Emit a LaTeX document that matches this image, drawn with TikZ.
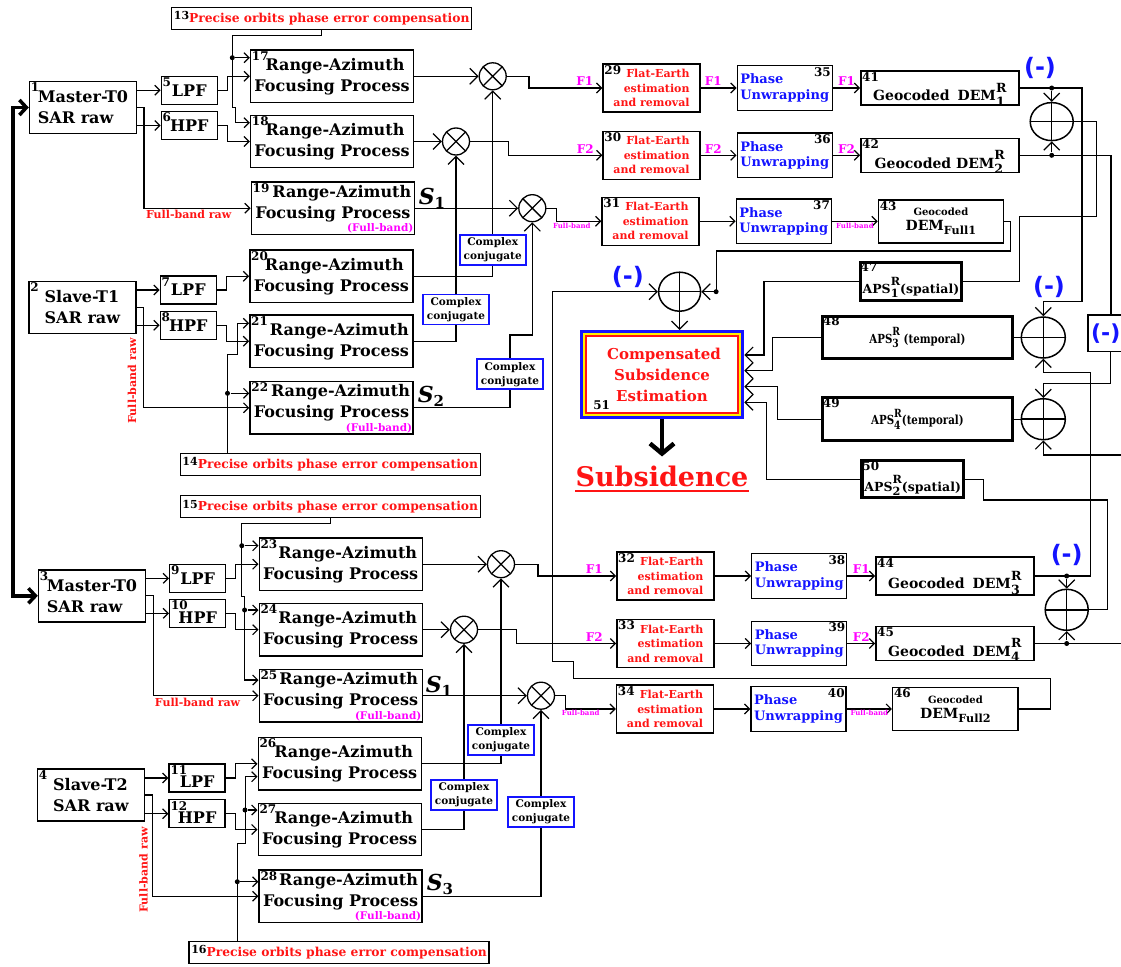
\documentclass[tikz,border=0pt]{standalone}
\usepackage{fontspec}
\setmainfont{DejaVu Serif}
\newfontfamily\minusfam{DejaVu Sans}
\newfontfamily\apsfam[FakeStretch=0.82]{DejaVu Serif}
\usepackage{graphicx}
\usepackage{tikz}
\usetikzlibrary{arrows.meta, shapes.geometric, positioning}

\definecolor{mag}{RGB}{255,0,255}
\definecolor{pblue}{RGB}{20,20,255}
\definecolor{pred}{RGB}{255,20,20}

\newcommand{\fRA}{\fontsize{16}{21}\selectfont\bfseries}
\newcommand{\fNum}{\fontsize{12}{12}\selectfont\bfseries}
\newcommand{\fSmall}{\fontsize{11}{14.5}\selectfont\bfseries}
\newcommand{\fUnw}{\fontsize{13}{15.5}\selectfont\bfseries}
\newcommand{\fOrb}{\fontsize{12.3}{14}\selectfont\bfseries}
\newcommand{\fGeo}{\fontsize{14}{17}\selectfont\bfseries}
\newcommand{\fAps}{\fontsize{12.5}{14}\selectfont\bfseries}
\newcommand{\fApt}{\apsfam\fontsize{12.5}{14}\selectfont\bfseries}
\newcommand{\fCj}{\fontsize{10.5}{14}\selectfont\bfseries}
\newcommand{\fLab}{\fontsize{12}{12}\selectfont\bfseries}
\newcommand{\fTag}{\fontsize{7}{8}\selectfont\bfseries}
\newcommand{\fFb}{\fontsize{10.5}{10.5}\selectfont\bfseries}
\newcommand{\fMinus}{\minusfam\fontsize{24}{24}\selectfont\bfseries}
\newcommand{\fSub}{\fontsize{27}{27}\selectfont\bfseries}
\newcommand{\fComp}{\fontsize{15}{21}\selectfont\bfseries}

\newcommand{\dsup}[1]{\setbox0\hbox{\scalebox{0.9}{R}}\rlap{\raisebox{0.62em}{\copy0}}\makebox[\wd0][l]{\raisebox{-0.38em}{\scalebox{0.9}{#1}}}}
\newcommand{\fullsub}[1]{\raisebox{-0.3em}{\scalebox{0.8}{#1}}}
\newcommand{\sig}[1]{{\fontsize{22}{22}\selectfont\bfseries\itshape S}\raisebox{-4pt}{\fontsize{15}{15}\selectfont\bfseries #1}}
\newcommand{\onum}[1]{{\color{black}\fontsize{11}{11}\selectfont\raisebox{2.5pt}{#1}}}
\newcommand{\low}[1]{\raisebox{-4pt}[\height][0pt]{#1}}
\newcommand{\rat}[1]{\hspace*{#1pt}Range-Azimuth\\Focusing Process}

\begin{document}
\begin{tikzpicture}[x=1pt, y=-1pt, >={Straight Barb[length=5pt,width=10pt]}, line width=1.2pt]
\tikzset{
  box/.style={draw, line width=1.4pt, inner sep=1pt, align=center, text=black},
  src/.style={box, minimum width=107pt, minimum height=52pt, font=\fRA, align=left},
  filt/.style={box, minimum width=56pt, minimum height=28pt, font=\fRA},
  rabox/.style={box, minimum width=163pt, minimum height=52.5pt, font=\fRA},
  orbit/.style={box, minimum width=300pt, minimum height=22pt, font=\fOrb, text=pred, inner sep=0pt},
  flat/.style={box, minimum width=97pt, minimum height=48pt, font=\fSmall, text=pred, align=right},
  unwrap/.style={box, minimum width=95pt, minimum height=44.5pt, font=\fUnw, text=pblue, align=left},
  geo/.style={box, minimum width=158pt, minimum height=34pt, font=\fGeo},
  aps/.style={box, line width=3.2pt, font=\fAps},
  conj/.style={box, draw=pblue, line width=1.8pt, minimum width=66pt, minimum height=30pt, font=\fCj},
  mul/.style={circle, draw, line width=1.3pt, minimum size=27pt, inner sep=0pt,
    path picture={\draw (path picture bounding box.north west) -- (path picture bounding box.south east)
      (path picture bounding box.north east) -- (path picture bounding box.south west);}},
  add/.style={ellipse, draw, line width=1.5pt, minimum width=42pt, minimum height=39pt, inner sep=0pt,
    path picture={\draw (path picture bounding box.north) -- (path picture bounding box.south)
      (path picture bounding box.west) -- (path picture bounding box.east);}},
  final/.style={draw=pblue, line width=3.5pt, minimum width=161pt, minimum height=86pt, font=\fComp,
    text=pred, align=center,
    path picture={\draw[yellow, line width=2pt] ([shift={(2.75pt,-2.75pt)}]path picture bounding box.north west)
      rectangle ([shift={(-2.75pt,2.75pt)}]path picture bounding box.south east);
      \draw[pred, line width=2pt] ([shift={(4.75pt,-4.75pt)}]path picture bounding box.north west)
      rectangle ([shift={(-4.75pt,4.75pt)}]path picture bounding box.south east);}},
  dot/.style={circle, fill, inner sep=0pt, minimum size=5pt},
  minus/.style={text=pblue, font=\fMinus, inner sep=0pt},
  lab/.style={font=\fLab, inner sep=1.5pt},
  flab/.style={lab, text=mag},
  fbtag/.style={font=\fTag, text=mag, inner sep=1pt},
  fbraw/.style={lab, font=\fontsize{11}{11}\selectfont\bfseries, text=pred},
  nr/.style={label={[font=\fNum, text=black, anchor=north west, inner sep=1.5pt]north west:#1}},
  nrr/.style={label={[font=\fNum, text=black, anchor=north east, inner sep=1.5pt]north east:#1}},
  fb/.style={text depth=13pt, label={[font=\fFb, text=mag, anchor=south east, inner sep=1pt]south east:(Full-band)}},
  bigtip/.style={-{Straight Barb[length=8pt,width=16pt]}},
  bigtipr/.style={{Straight Barb[length=8pt,width=16pt]}-}
}
\useasboundingbox (0,0) rectangle (1121,966);
\clip (0,0) rectangle (1121,966);

% raw data
\node[src, nr=1] (1) at (83,107.5) {Master-T0\\SAR raw};
\node[src, nr=2] (2) at (82.4,307.3) {Slave-T1\\SAR raw};
\node[src, nr=3] (3) at (92,595.8) {Master-T0\\SAR raw};
\node[src, nr=4] (4) at (90.9,795) {Slave-T2\\SAR raw};

% filters
\node[filt, nr=5] (5) at (189.3,90.2) {LPF};
\node[filt, nr=6] (6) at (189.3,125.5) {HPF};
\node[filt, nr=7] (7) at (188.3,290) {LPF};
\node[filt, nr=8] (8) at (188.3,325.3) {HPF};
\node[filt, nr=9] (9) at (197.7,578.3) {LPF};
\node[filt, nr=10] (10) at (197.7,613.3) {\low{HPF}};
\node[filt, nr=11] (11) at (197.1,778) {\low{LPF}};
\node[filt, nr=12] (12) at (197.1,813.7) {\low{HPF}};

% orbit compensation
\node[orbit] (13) at (321.7,18.3) {\onum{13}Precise orbits phase error compensation};
\node[orbit] (14) at (330.3,464.2) {\onum{14}Precise orbits phase error compensation};
\node[orbit] (15) at (330.3,506.7) {\onum{15}Precise orbits phase error compensation};
\node[orbit] (16) at (339.1,952.3) {\onum{16}Precise orbits phase error compensation};

% focusing
\node[rabox, nr=17] (17) at (332,76.3) {\rat{6}};
\node[rabox, nr=18] (18) at (332,141.5) {\rat{6}};
\node[rabox, nr=19, fb] (19) at (332.8,208.2) {\rat{18}};
\node[rabox, nr=20] (20) at (331.3,276.3) {\rat{6}};
\node[rabox, nr=21] (21) at (331.3,341.2) {\rat{16}};
\node[rabox, nr=22, fb] (22) at (331.5,407.8) {\rat{18}};
\node[rabox, nr=23] (23) at (340.7,564.2) {\rat{14}};
\node[rabox, nr=24] (24) at (340.7,629.7) {\rat{14}};
\node[rabox, nr=25, fb] (25) at (340.7,695.7) {\rat{16}};
\node[rabox, nr=26] (26) at (339.7,763.8) {\rat{8}};
\node[rabox, nr=27] (27) at (339.7,829.5) {\rat{8}};
\node[rabox, nr=28, fb] (28) at (340.6,896.2) {\rat{16}};

\node (S1) at (432,198) {\sig{1}};
\node (S2) at (431,396) {\sig{2}};
\node (S1b) at (439,686) {\sig{1}};
\node (S3) at (440,884) {\sig{3}};

% multipliers and conjugates
\node[mul] (x1) at (492.7,76.3) {};
\node[mul] (x2) at (456,141.5) {};
\node[mul] (x3) at (532.3,208.2) {};
\node[mul] (x4) at (501,564.2) {};
\node[mul] (x5) at (464,629.7) {};
\node[mul] (x6) at (541,695.7) {};
\node[conj] (cc1) at (492.7,250) {Complex\\conjugate};
\node[conj] (cc2) at (456,309.5) {Complex\\conjugate};
\node[conj] (cc3) at (510,374.2) {Complex\\conjugate};
\node[conj] (cc4) at (501,739.8) {Complex\\conjugate};
\node[conj] (cc5) at (464,795) {Complex\\conjugate};
\node[conj] (cc6) at (541,811.7) {Complex\\conjugate};

% flat earth, unwrapping, geocoding
\node[flat, nr=29] (29) at (651.5,88) {Flat-Earth\\estimation\\and removal};
\node[flat, nr=30] (30) at (651.5,155.3) {Flat-Earth\\estimation\\and removal};
\node[flat, nr=31] (31) at (650.5,221.3) {Flat-Earth\\estimation\\and removal};
\node[flat, nr=32] (32) at (665.3,576) {Flat-Earth\\estimation\\and removal};
\node[flat, nr=33] (33) at (665.3,643.5) {Flat-Earth\\estimation\\and removal};
\node[flat, nr=34] (34) at (665,709) {Flat-Earth\\estimation\\and removal};
\node[unwrap, nrr=35] (35) at (784.7,88) {Phase\\Unwrapping};
\node[unwrap, nrr=36] (36) at (784.7,155.3) {Phase\\Unwrapping};
\node[unwrap, nrr=37] (37) at (783.8,221.3) {Phase\\Unwrapping};
\node[unwrap, nrr=38] (38) at (799.2,576) {Phase\\Unwrapping};
\node[unwrap, nrr=39] (39) at (799.2,643.5) {Phase\\Unwrapping};
\node[unwrap, nrr=40] (40) at (798.5,709) {Phase\\Unwrapping};
\node[geo, nr=41] (41) at (939.8,88) {\low{Geocoded\hspace{8pt}DEM\dsup{1}}};
\node[geo, nr=42] (42) at (939.8,155.3) {\low{Geocoded DEM\dsup{2}}};
\node[geo, nr=43, minimum width=125pt, minimum height=43pt] (43) at (940.9,221.3) {{\fontsize{10}{12}\selectfont Geocoded}\\[-2pt]DEM\fullsub{Full1}};
\node[geo, nr=44, minimum height=38pt] (44) at (954.8,576) {\low{Geocoded\hspace{8pt}DEM\dsup{3}}};
\node[geo, nr=45] (45) at (954.8,643.5) {\low{Geocoded\hspace{8pt}DEM\dsup{4}}};
\node[geo, nr=46, minimum width=125.5pt, minimum height=43pt] (46) at (955.4,709) {{\fontsize{10}{12}\selectfont Geocoded}\\[-2pt]DEM\fullsub{Full2}};

% atmospheric screens and subsidence
\node[aps, nr=47, minimum width=101.5pt, minimum height=38pt] (47) at (910.9,281.2) {\low{APS\dsup{1}(spatial)}};
\node[aps, nr=48, font=\fApt, minimum width=190pt, minimum height=42pt] (48) at (917.4,337.5) {APS\dsup{3} (temporal)};
\node[aps, nr=49, font=\fApt, minimum width=190pt, minimum height=43pt] (49) at (917.4,419.2) {APS\dsup{4}(temporal)};
\node[aps, nr=50, minimum width=101.5pt, minimum height=37pt] (50) at (912.7,479.2) {\low{APS\dsup{2}(spatial)}};
\node[final, label={[font=\fNum, text=black, anchor=south west, inner sep=0pt, xshift=13pt, yshift=9pt]south west:51}] (51) at (662,374.7) {\hspace*{4pt}Compensated\\Subsidence\\Estimation};
\node[text=pred, font=\fSub, inner sep=0pt] (sub) at (662,476) {Subsidence};

\node[add] (p1) at (679.6,291.7) {};
\node[add, minimum width=43pt, minimum height=38pt] (p2) at (1051.7,121.6) {};
\node[add, minimum width=44pt, minimum height=41pt] (p3) at (1043.3,337.5) {};
\node[add, minimum width=44pt, minimum height=41pt] (p4) at (1043.3,419.2) {};
\node[add, minimum width=43pt, minimum height=41pt] (p5) at (1066.7,609.8) {};
\node[minus] (neg1) at (627.8,276.7) {(-)};
\node[minus] (neg2) at (1040,68.3) {(-)};
\node[minus] (neg3) at (1049,286.7) {(-)};
\node[minus] (neg4) at (1066.7,555) {(-)};

% master T0 branch
\draw[->] (1.east |- 5.west) -- (5.west);
\draw[->] (1.east |- 6.west) -- (6.west);
\draw[->] (1.east) -- ++(6.7,0) |- node[fbraw, pos=0.71, below] {Full-band raw} (19.west);
\draw[->] (5.east) -- ++(9.4,0) |- (17.west);
\draw[->] (6.east) -- ++(9.4,0) |- (18.west);
\draw[->] (13.south) -- ++(0,5.7) -- ++(-89.4,0) -- ++(0,72) -- ++(3.4,0) |- ([yshift=18.8pt]18.west);
\node[dot] (d13) at (232.3,57.7) {};
\draw[->] (d13) -- (d13 -| 17.west);

% slave T1 branch
\draw[->] (2.east |- 7.west) -- (7.west);
\draw[->] (2.east |- 8.west) -- (8.west);
\draw[->] (2.east) -- ++(6.8,0) |- (22.west);
\node[fbraw, rotate=90] (fr2) at (132,381) {Full-band raw};
\draw[->] (7.east) -- ++(9.8,0) |- (20.west);
\draw[->] (8.east) -- ++(9.8,0) |- (21.west);
\draw[->] ([xshift=47.9pt]14.north west) -- ++(0,-97.7) -- ++(10,0) |- ([yshift=17.9pt]21.west);
\node[dot] (d14) at (227.5,393.3) {};
\draw[->] (d14) -- (d14 -| 22.west);

% master T0 second pair
\draw[->] (3.east |- 9.west) -- (9.west);
\draw[->] (3.east |- 10.west) -- (10.west);
\draw[->] (3.east) -- ++(7.2,0) |- node[fbraw, pos=0.71, below] {Full-band raw} (25.west);
\draw[->] (9.east) -- ++(8.9,0) |- (23.west);
\draw[->] (10.east) -- ++(8.9,0) |- (24.west);
\draw[->] (15.south) -- ++(0,5) -- ++(-88.5,0) -- ++(0,73.4) -- ++(2.8,0) |- ([yshift=15.7pt]25.west);
\node[dot] (d15a) at (241.8,545.7) {};
\node[dot] (d15b) at (244.6,610) {};
\draw[->] (d15a) -- (d15a -| 23.west);
\draw[->] (d15b) -- (d15b -| 24.west);

% slave T2 branch
\draw[->] (4.east |- 11.west) -- (11.west);
\draw[->] (4.east |- 12.west) -- (12.west);
\draw[->] (4.east) -- ++(7.7,0) |- (28.west);
\node[fbraw, rotate=90] (fr4) at (143.5,870) {Full-band raw};
\draw[->] (11.east) -- ++(9.6,0) |- (26.west);
\draw[->] (12.east) -- ++(9.6,0) |- (27.west);
\draw[->] ([xshift=49pt]16.north west) -- ++(0,-97.4) -- ++(7.7,0) |- ([yshift=-12.9pt]26.west);
\node[dot] (d16a) at (245,810) {};
\node[dot] (d16b) at (237.3,881.7) {};
\draw[->] (d16a) -- (d16a -| 27.west);
\draw[->] (d16b) -- (d16b -| 28.west);

% interferograms
\path[bigtip]
  (17) edge (x1)
  (18) edge (x2)
  (19) edge (x3)
  (23) edge (x4)
  (24) edge (x5)
  (25) edge (x6);
\draw (20.east) -| (cc1.south);
\draw (21.east) -| (cc2.south);
\draw (22.east) -| (cc3.south);
\draw (26.east) -| (cc4.south);
\draw (27.east) -| (cc5.south);
\draw (28.east) -| (cc6.south);
\draw[bigtip] (cc1.north) -- (x1.south);
\draw[bigtip] (cc2.north) -- (x2.south);
\draw[bigtip] (cc3.north) -- ++(0,-23.3) -| (x3.south);
\draw[bigtip] (cc4.north) -- (x4.south);
\draw[bigtip] (cc5.north) -- (x5.south);
\draw[bigtip] (cc6.north) -- (x6.south);

\draw[->] (x1.east) -- ++(22.1,0) |- node[flab, pos=0.88, above] {F1} (29.west);
\draw[->] (x2.east) -- ++(38.2,0) |- node[flab, pos=0.91, above] {F2} (30.west);
\draw[->] (x3.east) -- ++(10.2,0) |- node[fbtag, pos=0.67, below] {Full-band} (31.west);
\draw[->] (x4.east) -- ++(22.8,0) |- node[flab, pos=0.86, above] {F1} (32.west);
\draw[->] (x5.east) -- ++(38.5,0) |- node[flab, pos=0.89, above] {F2} (33.west);
\draw[->] (x6.east) -- ++(10.5,0) |- node[fbtag, pos=0.65, below] {Full-band} (34.west);

\path[->]
  (29) edge node[flab, pos=0.35, above] {F1} (35)
  (30) edge node[flab, pos=0.35, above] {F2} (36)
  (31) edge (37)
  (32) edge (38)
  (33) edge (39)
  (34) edge (40)
  (35) edge node[flab, above] {F1} (41)
  (36) edge node[flab, above] {F2} (42)
  (37) edge node[fbtag, below] {Full-band} (43)
  (38) edge node[flab, above] {F1} (44)
  (39) edge node[flab, above] {F2} (45)
  (40) edge node[fbtag, below] {Full-band} (46);

% DEM differences
\node[dot] (d41) at (p2.north |- 41.east) {};
\node[dot] (d42) at (p2.south |- 42.east) {};
\node[dot] (d44) at (p5.north |- 44.east) {};
\node[dot] (d45) at (p5.south |- 45.east) {};
\draw[bigtip] (d41) -- (p2.north);
\draw[bigtip] (d42) -- (p2.south);
\draw[bigtip] (d44) -- (p5.north);
\draw[bigtip] (d45) -- (p5.south);
\draw[bigtip] (41.east) -- ++(62.4,0) -- ++(0,213.5) -| (p3.north);
\draw[bigtip] (44.east) -- ++(55.6,0) -- ++(0,-203.7) -| (p3.south);
\draw (45.east) -- ++(100,0);
\draw (42.east) -| ++(91.4,159.7) coordinate (k42);
\node[minus, font=\minusfam\fontsize{22}{22}\selectfont\bfseries, draw=black, fill=white, line width=1.6pt, minimum width=46pt, minimum height=36.7pt] (neg5) at (1110.7,333.3) {(-)\hspace*{10pt}};
\draw[bigtip] (neg5.south) -- ++(0,31) -| (p4.north);
\draw[bigtipr] (p4.south) -- ++(0,14.5) -- ++(100,0);
\draw (48.east) -- (p3.west);
\draw (49.east) -- (p4.west);
\draw (p2.east) -- ++(22.6,0) -- ++(0,95.1) -- ++(-76.7,0) |- (47.east);
\draw (p5.east) -- ++(18.9,0) -- ++(0,-109.8) -- ++(-124,0) |- (50.east);
\draw[bigtip] (43.east) -- ++(6,0) -- ++(0,29.7) -- ++(-294,0) coordinate (k43) |- (p1.east);
\node[dot] (d43) at (k43 |- p1.east) {};
\draw[bigtip] (46.east) -- ++(31.5,0) -- ++(0,-30.7) -- ++(-477.1,0) -- ++(0,-16.6) -- ++(-21.1,0) |- (p1.west);
\draw[bigtip] (p1.south) -- (p1.south |- 51.north);

% screens into estimation
\draw[bigtip] (47.west) -- ++(-94.5,0) |- ([yshift=19.7pt]51.east);
\draw[bigtip] (48.west) -- ++(-48.1,0) |- ([yshift=4pt]51.east);
\draw[bigtip] (49.west) -- ++(-43.7,0) |- ([yshift=-12pt]51.east);
\draw[bigtip] (50.west) -- ++(-93.7,0) |- ([yshift=-27.6pt]51.east);
\draw[line width=4.5pt, -{Straight Barb[length=10pt,width=24pt]}] (51.south) -- ++(0,37);
\draw[pred, line width=2.5pt] ([yshift=-4pt]sub.south west) -- ([yshift=-4pt]sub.south east);

% master to master link
\draw[line width=3.5pt, {Straight Barb[length=7pt,width=15pt]}-{Straight Barb[length=7pt,width=15pt]}] (1.west) -- ++(-15.7,0) |- (3.west);
\end{tikzpicture}
\end{document}
